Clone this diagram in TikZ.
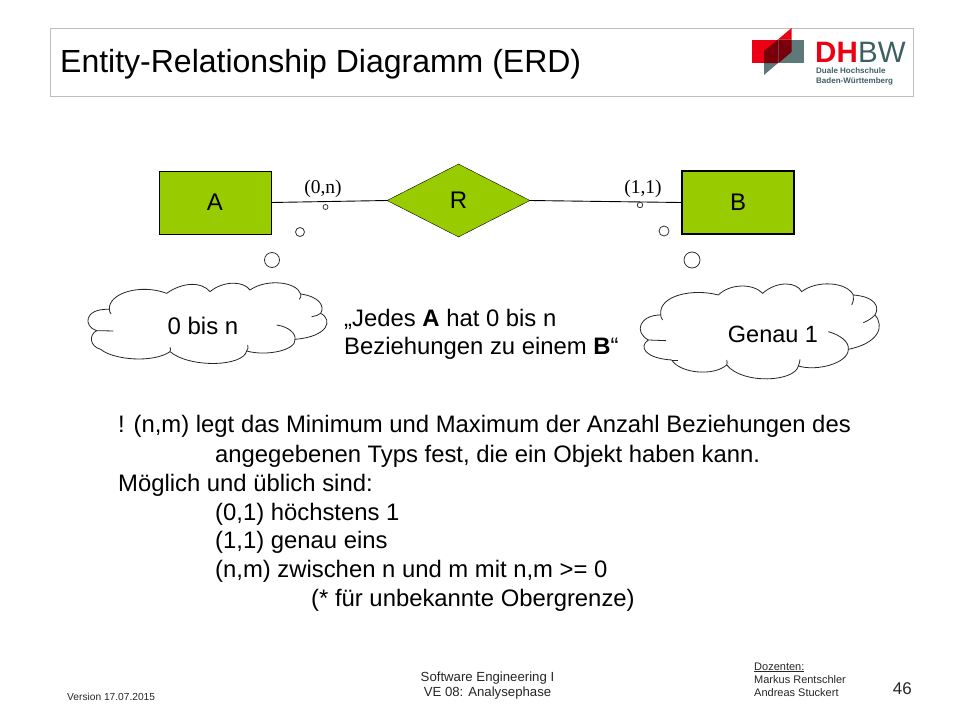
\documentclass[tikz,border=0pt]{standalone}
\usepackage{fontspec}
\setmainfont{Liberation Sans}
\newfontfamily\serifnum{Liberation Serif}
\usetikzlibrary{shapes.geometric}
\definecolor{ergreen}{RGB}{153,204,0}
\definecolor{dhred}{RGB}{236,0,20}
\definecolor{dhteal}{RGB}{93,121,122}
\definecolor{dhdark}{RGB}{120,0,10}
\definecolor{dhtext}{RGB}{60,95,100}
\definecolor{framegray}{RGB}{190,190,190}
\tikzset{
  entity/.style={draw=black,fill=ergreen,minimum width=112pt,minimum height=63pt,inner sep=0pt,font=\fontsize{24}{28}\selectfont},
  relation/.style={diamond,aspect=1.96,draw=black,fill=ergreen,minimum width=143pt,minimum height=73pt,inner sep=0pt,font=\fontsize{24}{28}\selectfont},
  link/.style={draw=black,line width=0.9pt},
  bubble/.style={circle,draw=black!80,fill=white,inner sep=0pt,line width=0.8pt},
  cloudline/.style={draw=black!85,fill=white,line width=0.8pt},
  cloudhook/.style={draw=black!85,line width=0.8pt},
  card/.style={anchor=base,font=\serifnum\fontsize{19.5}{22}\selectfont,inner sep=0pt},
  bodytext/.style={anchor=base west,inner sep=0pt,font=\fontsize{23.85}{28}\selectfont},
  foot/.style={anchor=base,inner sep=0pt,align=center}
}
\begin{document}
\begin{tikzpicture}[x=1pt,y=-1pt]
\useasboundingbox (0,0) rectangle (960,720);
% title frame
\node[draw=framegray,line width=0.8pt,minimum width=863pt,minimum height=68pt,inner sep=0pt,anchor=north west] (titlebox) at (50,27.5) {};
\node[anchor=base west,inner sep=0pt,font=\fontsize{32}{36}\selectfont] (title) at (60,72.5) {Entity-Relationship Diagramm (ERD)};
% logo
\fill[dhred] (752,39.5) rectangle (778,63);
\fill[dhteal] (778,39.5) rectangle (804,63);
\fill[dhred] (778,39.5) -- (791.5,28) -- (791.5,39.5) -- cycle;
\fill[dhteal] (764,75) -- (764,63) -- (778,63) -- cycle;
\fill[dhdark] (764,51) -- (778,39.5) -- (778,63) -- (764,63) -- cycle;
\fill[dhdark] (778.6,39.5) -- (791.5,39.5) -- (791.5,52) -- (778.6,63) -- cycle;
\node[anchor=base west,inner sep=0pt,text=dhred,font=\bfseries\fontsize{29.5}{32}\selectfont] (logoa) at (815,62) {DH};
\node[anchor=base west,inner sep=0pt,text=dhtext,font=\fontsize{29.5}{32}\selectfont] (logob) at (858,62) {BW};
\node[anchor=base west,inner sep=0pt,text=dhtext,font=\bfseries\fontsize{8}{10}\selectfont] (logoc) at (816,73) {Duale Hochschule};
\node[anchor=base west,inner sep=0pt,text=dhtext,font=\bfseries\fontsize{8}{10}\selectfont] (logod) at (816,83) {Baden-Württemberg};
% ER
\node[entity] (A) at (215,202.5) {A};
\node[entity,line width=1.4pt] (B) at (738,202.5) {B};
\node[relation] (R) at (458.5,200.5) {\raisebox{-2.5pt}{R}};
\draw[link] (A.east) -- (R.west);
\draw[link] (R.east) -- (B.west);
\node[card] (c1) at (323,193) {(0,n)};
\node[card] (c2) at (643,193) {(1,1)};
% bubbles
\node[bubble,minimum size=5pt] (a1) at (325.5,207) {};
\node[bubble,minimum size=9pt] (a2) at (300,232) {};
\node[bubble,minimum size=15pt] (a3) at (272,260) {};
\node[bubble,minimum size=5.5pt] (b1) at (640,205) {};
\node[bubble,minimum size=10pt] (b2) at (664,231) {};
\node[bubble,minimum size=16pt] (b3) at (692,260) {};
% cloud A
\begin{scope}[shift={(80,150)},x=0.3333pt,y=-0.3333pt]
\path[cloudline] (88,478) .. controls (85,430) and (180,400) .. (260,430)
 .. controls (310,395) and (365,395) .. (390,425)
 .. controls (430,392) and (490,392) .. (510,420)
 .. controls (560,385) and (650,395) .. (662,432)
 .. controls (720,440) and (735,470) .. (722,490)
 .. controls (760,510) and (745,560) .. (645,568)
 .. controls (650,600) and (560,620) .. (500,603)
 .. controls (490,650) and (330,655) .. (270,605)
 .. controls (220,640) and (100,630) .. (62,598)
 .. controls (30,590) and (25,555) .. (50,542)
 .. controls (10,530) and (10,475) .. (88,478) -- cycle;
\draw[cloudhook] (50,542) -- (100,543);
\draw[cloudhook] (270,605) .. controls (272,600) and (272,596) .. (270,592);
\draw[cloudhook] (500,603) .. controls (505,597) and (505,592) .. (503,585);
\draw[cloudhook] (590,525) .. controls (625,530) and (648,550) .. (645,568);
\draw[cloudhook] (722,490) .. controls (715,495) and (705,500) .. (695,500);
\draw[cloudhook] (662,432) .. controls (664,438) and (662,443) .. (658,448);
\draw[cloudhook] (88,478) .. controls (88,483) and (90,488) .. (93,492);
\end{scope}
\node[anchor=base,inner sep=0pt,font=\fontsize{24}{28}\selectfont] (cloudatext) at (203,334) {0 bis n};
% cloud B
\begin{scope}[shift={(620,150)},x=0.3333pt,y=-0.3333pt]
\path[cloudline] (122,495) .. controls (115,435) and (220,415) .. (295,435)
 .. controls (330,400) and (400,400) .. (428,430)
 .. controls (470,392) and (530,395) .. (545,425)
 .. controls (590,390) and (680,395) .. (700,435)
 .. controls (765,440) and (780,470) .. (765,495)
 .. controls (795,530) and (775,580) .. (685,598)
 .. controls (685,640) and (590,665) .. (535,648)
 .. controls (525,695) and (370,705) .. (320,645)
 .. controls (280,680) and (180,670) .. (155,630)
 .. controls (75,625) and (55,590) .. (85,570)
 .. controls (40,545) and (60,495) .. (122,495) -- cycle;
\draw[cloudhook] (85,570) -- (138,572);
\draw[cloudhook] (155,630) -- (175,630);
\draw[cloudhook] (320,645) .. controls (322,640) and (322,635) .. (320,630);
\draw[cloudhook] (535,648) .. controls (538,640) and (540,635) .. (540,628);
\draw[cloudhook] (625,545) .. controls (660,555) and (688,575) .. (685,598);
\draw[cloudhook] (765,495) .. controls (755,505) and (745,512) .. (730,518);
\draw[cloudhook] (700,435) .. controls (702,445) and (700,455) .. (695,465);
\draw[cloudhook] (122,495) .. controls (122,500) and (124,505) .. (128,510);
\end{scope}
\node[anchor=base,inner sep=0pt,font=\fontsize{23.5}{28}\selectfont] (cloudbtext) at (773,342) {Genau 1};
% explanation
\node[bodytext] (e1) at (344,326) {„Jedes \textbf{A} hat 0 bis n};
\node[bodytext] (e2) at (344,354) {Beziehungen zu einem \textbf{B}“};
% body
\node[bodytext] (l1) at (118,432) {! (n,m) legt das Minimum und Maximum der Anzahl Beziehungen des};
\node[bodytext] (l2) at (215,462) {angegebenen Typs fest, die ein Objekt haben kann.};
\node[bodytext] (l3) at (118,491) {Möglich und üblich sind:};
\node[bodytext] (l4) at (215,520) {(0,1) höchstens 1};
\node[bodytext] (l5) at (215,548) {(1,1) genau eins};
\node[bodytext] (l6) at (215,577) {(n,m) zwischen n und m mit n,m >= 0};
\node[bodytext] (l7) at (311,606) {(* für unbekannte Obergrenze)};
% footer
\node[anchor=base west,inner sep=0pt,font=\fontsize{10.2}{13}\selectfont,text=black!85] (ver) at (67,700) {Version 17.07.2015};
\node[foot,font=\fontsize{13.2}{15}\selectfont,text=black!85] (f1) at (487.5,681) {Software Engineering I};
\node[foot,font=\fontsize{13.2}{15}\selectfont,text=black!85] (f2) at (487.5,696) {VE 08: Analysephase};
\node[anchor=base west,inner sep=0pt,font=\fontsize{11}{13}\selectfont,text=black!85] (d1) at (754,670) {\underline{Dozenten:}};
\node[anchor=base west,inner sep=0pt,font=\fontsize{11}{13}\selectfont,text=black!85] (d2) at (754,683) {Markus Rentschler};
\node[anchor=base west,inner sep=0pt,font=\fontsize{11}{13}\selectfont,text=black!85] (d3) at (754,696) {Andreas Stuckert};
\node[anchor=base east,inner sep=0pt,font=\fontsize{17}{20}\selectfont,text=black!85] (pg) at (912,694) {46};
\end{tikzpicture}
\end{document}
